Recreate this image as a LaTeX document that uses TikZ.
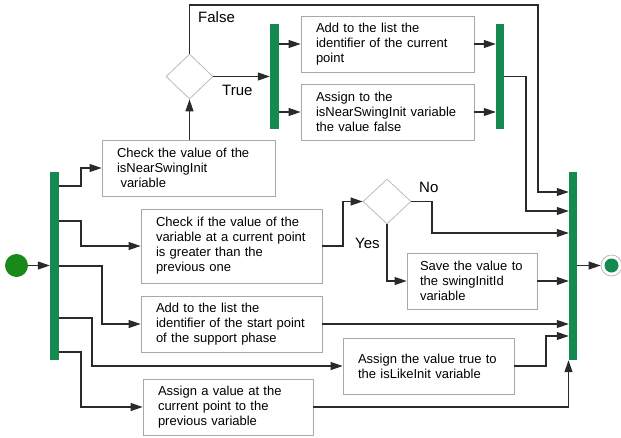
\documentclass[tikz,border=0pt]{standalone}
\usepackage{fontspec}
\setmainfont{Liberation Sans}
\usetikzlibrary{arrows.meta,shapes.geometric}
\definecolor{bargreen}{HTML}{148A50}
\definecolor{startgreen}{HTML}{178A17}
\definecolor{boxgray}{HTML}{A8A8A8}
\definecolor{diagray}{HTML}{BBBBBB}
\definecolor{linegray}{HTML}{2A2A2A}
\begin{document}
\begin{tikzpicture}[x=1pt,y=-1pt,
  box/.style={draw=boxgray, line width=0.8pt, fill=white, align=left,
    inner xsep=15pt, inner ysep=0pt, minimum height=56pt,
    font=\fontsize{13}{15}\selectfont},
  bar/.style={fill=bargreen, draw=none, minimum width=9pt, inner sep=0pt},
  dec/.style={diamond, draw=diagray, line width=0.8pt, inner sep=0pt,
    minimum width=47pt, minimum height=45pt},
  flow/.style={draw=linegray, line width=1.1pt,
    -{Triangle[length=12pt,width=8pt]}},
  lbl/.style={font=\fontsize{15}{18}\selectfont, inner sep=0pt, anchor=west}]
\useasboundingbox (0,0) rectangle (621,437);

% start and end points
\node[circle, fill=startgreen, minimum size=23pt, inner sep=0pt] (start) at (16.5,265.5) {};
\node[circle, draw=diagray, line width=0.8pt, fill=white, minimum size=21pt, inner sep=0pt] (end) at (611.5,265.5) {};
\fill[bargreen] (end.center) circle (7pt);

% fork and join bars
\node[bar, minimum height=188pt] (forkL) at (54.5,266) {};
\node[bar, minimum height=105pt] (forkT) at (274.5,76.5) {};
\node[bar, minimum height=105pt, minimum width=8pt] (joinT) at (500,76.5) {};
\node[bar, minimum height=188pt, minimum width=8pt] (joinR) at (573,266) {};

% decisions
\node[dec] (dia1) at (189.5,76.5) {};
\node[dec, minimum width=48pt] (dia2) at (387,201.5) {};

% actions
\node[box, text width=143pt] (chk1) at (188.5,168)
  {Check the value of the\\isNearSwingInit\\\hspace*{3.5pt}variable};
\node[box, text width=143pt] (boxA) at (387.5,44)
  {Add to the list the\\identifier of the current\\point};
\node[box, text width=143pt] (boxB) at (387.5,112)
  {Assign to the\\isNearSwingInit variable\\the value false};
\node[box, text width=151pt, minimum height=74pt] (box2) at (231.5,246)
  {Check if the value of the\\variable at a current point\\is greater than the\\previous one};
\node[box, text width=151pt] (box3) at (231.5,324)
  {Add to the list the\\identifier of the start point\\of the support phase};
\node[box, text width=141pt] (box4) at (428.5,366)
  {Assign the value true to\\the isLikeInit variable};
\node[box, text width=140pt] (box5) at (228,407)
  {Assign a value at the\\current point to the\\previous variable};
\node[box, text width=104pt, inner xsep=13pt] (box6) at (472,281)
  {Save the value to\\the swingInitId\\variable};

% branch labels
\node[lbl] (lfalse) at (198,17) {False};
\node[lbl] (ltrue) at (222,90) {True};
\node[lbl] (lno) at (419,187) {No};
\node[lbl] (lyes) at (355,243) {Yes};

% connectors
\draw[flow] (start.east) -- (start.east -| forkL.west);
\draw[flow] (forkL.east |- 0,186) -| (81,168) -- (chk1.west);
\draw[flow] (dia1.south |- chk1.north) -- (dia1.south);
\draw[flow] (dia1.north) -- (189.5,5) -| (538,192) -- (joinR.west |- 0,192);
\draw[flow] (dia1.east) -- (forkT.west |- dia1.east);
\draw[flow] (forkT.east |- boxA.west) -- (boxA.west);
\draw[flow] (forkT.east |- boxB.west) -- (boxB.west);
\draw[flow] (boxA.east) -- (joinT.west |- boxA.east);
\draw[flow] (boxB.east) -- (joinT.west |- boxB.east);
\draw[flow] (joinT.east) -| (526,211) -- (joinR.west |- 0,211);
\draw[flow] (forkL.east |- 0,221) -| (81,246) -- (box2.west);
\draw[flow] (forkL.east |- 0,266) -| (102,324) -- (box3.west);
\draw[flow] (forkL.east |- 0,318) -| (92,366) -- (box4.west);
\draw[flow] (forkL.east |- 0,352) -| (81,407) -- (box5.west);
\draw[flow] (box2.east) -| (343,201.5) -- (dia2.west);
\draw[flow] (dia2.east) -| (432,233) -- (joinR.west |- 0,233);
\draw[flow] (dia2.south) |- (box6.west);
\draw[flow] (box6.east) -- (joinR.west |- box6.east);
\draw[flow] (box3.east) -- (joinR.west |- box3.east);
\draw[flow] (box4.east) -| (546,336) -- (joinR.west |- 0,336);
\draw[flow] (box5.east) -| ([xshift=-4.5pt]joinR.south);
\draw[flow] (joinR.east |- end) -- (end.west);
\end{tikzpicture}
\end{document}
